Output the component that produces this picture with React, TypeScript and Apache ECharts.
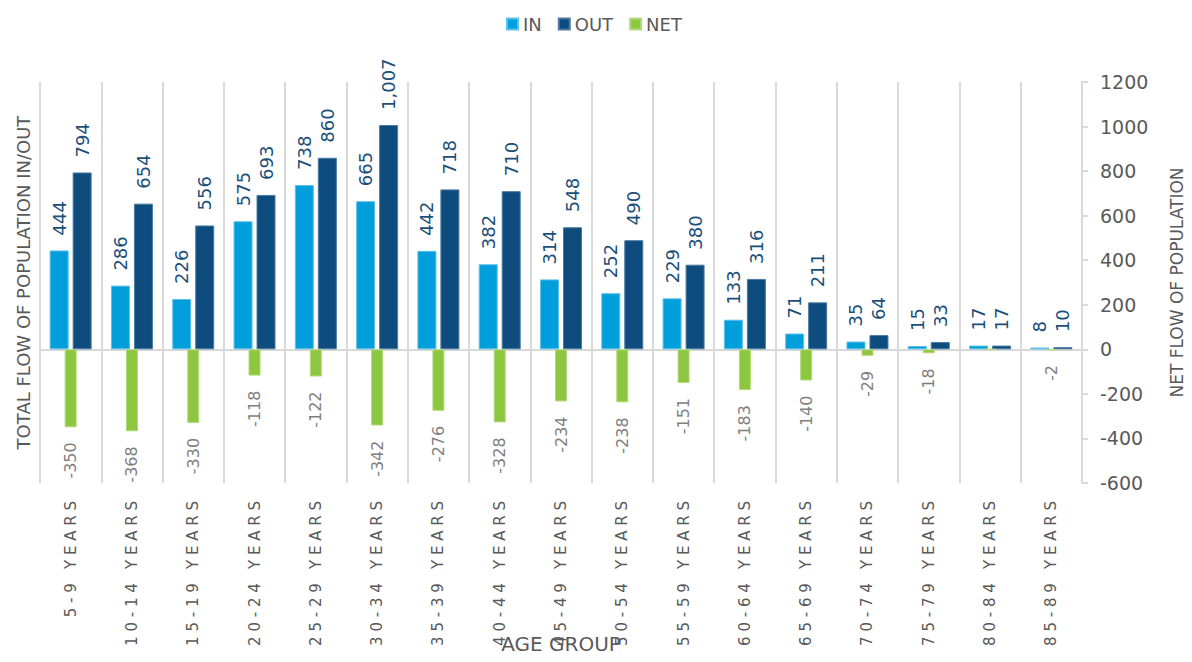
import React, { useEffect, useRef } from "react";
import * as echarts from "echarts";

const categories = [
  "5-9 YEARS", "10-14 YEARS", "15-19 YEARS", "20-24 YEARS", "25-29 YEARS",
  "30-34 YEARS", "35-39 YEARS", "40-44 YEARS", "45-49 YEARS", "50-54 YEARS",
  "55-59 YEARS", "60-64 YEARS", "65-69 YEARS", "70-74 YEARS", "75-79 YEARS",
  "80-84 YEARS", "85-89 YEARS",
];
const inValues = [444, 286, 226, 575, 738, 665, 442, 382, 314, 252, 229, 133, 71, 35, 15, 17, 8];
const outValues = [794, 654, 556, 693, 860, 1007, 718, 710, 548, 490, 380, 316, 211, 64, 33, 17, 10];
const netValues = [-350, -368, -330, -118, -122, -342, -276, -328, -234, -238, -151, -183, -140, -29, -18, 0, -2];

const FONT = "DejaVu Sans";
const GRAY = "#595959";
const LINE = "#D9D9D9";

const spaced = (s: string) => {
  const [range, word] = s.split(" ");
  return range.split("").join(" ") + "   " + word.split("").join(" ");
};

export default function App() {
  const ref = useRef<HTMLDivElement>(null);
  useEffect(() => {
    if (!ref.current) return;
    const chart = echarts.init(ref.current, undefined, { renderer: "svg" });
    chart.setOption({
      animation: false,
      textStyle: { fontFamily: FONT },
      legend: {
        left: 501,
        top: 10,
        icon: "rect",
        itemWidth: 11,
        itemHeight: 11,
        itemGap: 16,
        textStyle: { color: GRAY, fontSize: 18, fontFamily: FONT },
        data: ["IN", "OUT", "NET"],
      },
      grid: { left: 40, right: 110, top: 82, bottom: 179, containLabel: false, outerBoundsMode: "none" },
      xAxis: [
        {
          type: "category",
          data: categories,
          name: "AGE GROUP",
          nameLocation: "middle",
          nameGap: 151,
          nameMoveOverlap: false,
          nameTextStyle: { color: GRAY, fontSize: 20, fontFamily: FONT, verticalAlign: "top" },
          axisLine: { show: true, lineStyle: { color: LINE, width: 2 } },
          axisTick: { show: false },
          splitLine: { show: true, lineStyle: { color: LINE, width: 2 } },
          axisLabel: {
            rotate: 90,
            color: GRAY,
            fontSize: 15,
            fontFamily: FONT,
            margin: 18,
            interval: 0,
            formatter: (v: string) => spaced(v),
          },
        },
        {
          type: "category",
          data: categories,
          show: false,
        },
      ],
      yAxis: [
        {
          type: "value",
          min: -600,
          max: 1200,
          interval: 200,
          name: "TOTAL FLOW OF POPULATION IN/OUT",
          nameLocation: "middle",
          nameGap: 8,
          nameMoveOverlap: false,
          nameTextStyle: { color: GRAY, fontSize: 18, fontFamily: FONT },
          axisLabel: { show: false },
          axisLine: { show: false },
          axisTick: { show: false },
          splitLine: { show: false },
        },
        {
          type: "value",
          position: "right",
          min: -600,
          max: 1200,
          interval: 200,
          name: "NET FLOW OF POPULATION",
          nameLocation: "middle",
          nameRotate: 90,
          nameGap: 86,
          nameMoveOverlap: false,
          nameTextStyle: { color: GRAY, fontSize: 17, fontFamily: FONT },
          axisLabel: {
            color: GRAY,
            fontSize: 19,
            fontFamily: FONT,
            margin: 18,
            formatter: (v: number) => String(v),
          },
          axisLine: { show: true, lineStyle: { color: LINE, width: 2 } },
          axisTick: { show: true, inside: false, length: 6, lineStyle: { color: LINE, width: 2 } },
          splitLine: { show: false },
        },
      ],
      series: [
        {
          name: "IN",
          type: "bar",
          xAxisIndex: 0,
          yAxisIndex: 0,
          data: inValues,
          barWidth: 19,
          barGap: "21%",
          itemStyle: { color: "#009FDB", borderColor: "#5FC0EA", borderWidth: 1 },
          label: {
            show: true,
            position: "top",
            rotate: 90,
            align: "left",
            verticalAlign: "middle",
            distance: 15,
            color: "#1B4F7A",
            fontSize: 18,
            fontFamily: FONT,
            formatter: (p: any) => Number(p.value).toLocaleString("en-US"),
          },
        },
        {
          name: "OUT",
          type: "bar",
          xAxisIndex: 0,
          yAxisIndex: 0,
          data: outValues,
          barWidth: 19,
          barGap: "21%",
          itemStyle: { color: "#0D4C7D", borderColor: "#4A7AA3", borderWidth: 1 },
          label: {
            show: true,
            position: "top",
            rotate: 90,
            align: "left",
            verticalAlign: "middle",
            distance: 15,
            color: "#1B4F7A",
            fontSize: 18,
            fontFamily: FONT,
            formatter: (p: any) => Number(p.value).toLocaleString("en-US"),
          },
        },
        {
          name: "NET",
          type: "bar",
          xAxisIndex: 1,
          yAxisIndex: 1,
          data: netValues,
          barWidth: 12,
          itemStyle: { color: "#8DC63F", borderColor: "#B2DA7C", borderWidth: 1 },
          label: {
            show: true,
            position: "bottom",
            rotate: 90,
            align: "right",
            verticalAlign: "middle",
            distance: 15,
            color: "#7F7F7F",
            fontSize: 16,
            fontFamily: FONT,
            formatter: (p: any) => (p.value === 0 ? "" : String(p.value)),
          },
        },
      ],
    });
    return () => chart.dispose();
  }, []);
  return <div ref={ref} style={{ width: 1192, height: 662, margin: -8 }} />;
}
